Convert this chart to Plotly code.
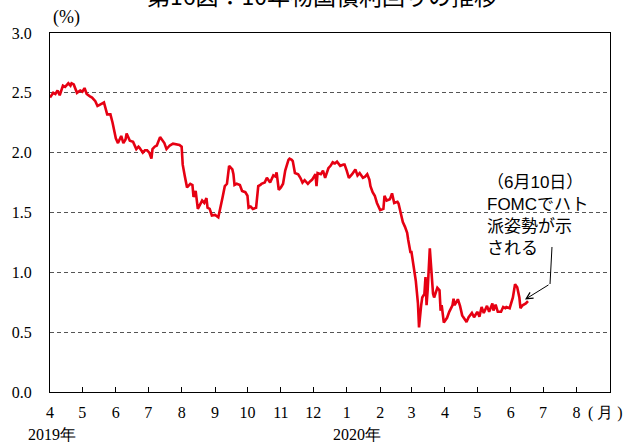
import pandas as pd
import plotly.graph_objects as go

# Days since 2019-04-01 and 10-year yield (%)
day_offsets = [
    0, 3, 5, 7, 9, 12, 14, 17, 19, 20, 22, 25, 28, 30, 32, 34, 37, 39, 42, 44,
    46, 48, 50, 53, 56, 58, 61, 63, 66, 68, 70, 71, 74, 77, 80, 82, 83, 86, 88, 90,
    92, 94, 95, 97, 99, 102, 104, 106, 108, 111, 114, 117, 119, 120, 122,
    123, 125, 127, 130, 132, 133, 135, 137, 139, 141, 143, 145, 146, 148, 150, 153, 156, 158,
    160, 162, 164, 166, 169, 170, 171, 173, 176, 178, 181, 183, 184, 186, 188, 191, 193,
    195, 196, 199, 201, 204, 207, 209, 210, 212, 214, 216, 218, 221, 222, 224, 225,
    227, 230, 232, 234, 236, 239, 241, 243, 246, 247, 248, 251, 253, 255, 258, 260, 262,
    264, 266, 269, 272, 273, 275, 277, 280, 283, 285, 287, 290, 292, 294, 296, 297, 299,
    301, 303, 306, 309, 310, 312, 315, 317, 319, 322, 323,
    325, 327, 329, 331, 332, 334, 335, 337, 339, 341, 342, 344, 345, 347, 348, 349, 350,
    352, 354, 355, 356, 359, 361, 362, 363, 365, 368, 370, 373, 374, 375, 378, 380,
    382, 385, 386, 388, 391, 393, 396, 398, 400, 402, 405, 407, 410, 411, 413, 415, 418,
    420, 422, 423, 426, 429, 431, 433, 435, 436, 438, 441, 443,
]
yields = [
    2.46, 2.50, 2.49, 2.52, 2.48, 2.56, 2.55, 2.58, 2.56, 2.58, 2.57, 2.50, 2.52, 2.51, 2.54, 2.49, 2.47, 2.46, 2.43, 2.39,
    2.40, 2.41, 2.42, 2.32, 2.32, 2.25, 2.12, 2.08, 2.14, 2.08, 2.11, 2.16, 2.10, 2.09, 2.03, 2.05, 2.04, 2.00, 2.02, 2.02,
    2.00, 1.95, 2.03, 2.05, 2.06, 2.13, 2.10, 2.08, 2.03, 2.06, 2.075, 2.07, 2.07, 2.065, 2.05,
    1.90, 1.80, 1.71, 1.74, 1.73, 1.63, 1.68, 1.53, 1.57, 1.60, 1.58, 1.62, 1.54, 1.53, 1.475, 1.48, 1.46, 1.56,
    1.63, 1.72, 1.74, 1.89, 1.86, 1.82, 1.73, 1.74, 1.73, 1.68, 1.67, 1.64, 1.54, 1.55, 1.53, 1.54, 1.72,
    1.73, 1.74, 1.75, 1.79, 1.75, 1.81, 1.80, 1.835, 1.69, 1.71, 1.74, 1.85, 1.94, 1.95, 1.94, 1.93,
    1.83, 1.82, 1.79, 1.75, 1.77, 1.74, 1.76, 1.775, 1.82, 1.72, 1.83, 1.82, 1.85, 1.79, 1.87, 1.89, 1.92,
    1.91, 1.925, 1.89, 1.90, 1.90, 1.85, 1.79, 1.82, 1.86, 1.81, 1.83, 1.79, 1.80, 1.82, 1.775, 1.72, 1.67,
    1.64, 1.58, 1.52, 1.53, 1.64, 1.60, 1.61, 1.66, 1.58, 1.59, 1.575,
    1.49, 1.42, 1.38, 1.33, 1.27, 1.17, 1.17, 1.04, 0.93, 0.74, 0.54, 0.725, 0.79, 0.82, 0.96, 0.725, 0.85,
    1.20, 0.96, 0.82, 0.79, 0.87, 0.85, 0.68, 0.725, 0.58, 0.62, 0.67, 0.725, 0.78, 0.725, 0.775, 0.72,
    0.64, 0.60, 0.585, 0.625, 0.66, 0.625, 0.67, 0.63, 0.71, 0.66, 0.72, 0.67, 0.74, 0.68, 0.73, 0.67, 0.67,
    0.71, 0.70, 0.71, 0.70, 0.79, 0.90, 0.875, 0.79, 0.70, 0.725, 0.74, 0.76,
]

month_ticks = ["2019-04-01", "2019-05-01", "2019-06-01", "2019-07-01", "2019-08-01",
               "2019-09-01", "2019-10-01", "2019-11-01", "2019-12-01", "2020-01-01",
               "2020-02-01", "2020-03-01", "2020-04-01", "2020-05-01", "2020-06-01",
               "2020-07-01", "2020-08-01"]
month_labels = ["4", "5", "6", "7", "8", "9", "10", "11", "12",
                "1", "2", "3", "4", "5", "6", "7", "8"]
y_ticks = [0.0, 0.5, 1.0, 1.5, 2.0, 2.5, 3.0]

dates = pd.Timestamp("2019-04-01") + pd.to_timedelta(day_offsets, unit="D")

SERIF = "Liberation Serif, Times New Roman, serif"
SANS = "Liberation Sans, Arial, Noto Sans CJK JP, sans-serif"

fig = go.Figure()
fig.add_trace(go.Scatter(
    x=dates, y=yields, mode="lines",
    line=dict(color="#e60012", width=2.6),
    hoverinfo="skip", showlegend=False,
))

fig.update_layout(
    width=627, height=443,
    margin=dict(l=50, r=17, t=33, b=51),
    paper_bgcolor="white", plot_bgcolor="white",
    showlegend=False,
    xaxis=dict(
        type="date", range=["2019-04-01", "2020-09-01"],
        tickmode="array", tickvals=month_ticks, ticktext=month_labels,
        ticks="inside", ticklen=5, tickcolor="black", tickwidth=1,
        showgrid=False, zeroline=False,
        showline=True, linecolor="black", linewidth=1, mirror=True,
        tickfont=dict(family=SERIF, size=16, color="black"),
        ticklabelstandoff=6,
    ),
    yaxis=dict(
        range=[0, 3], tickmode="array", tickvals=y_ticks,
        ticktext=[f"{v:.1f}" for v in y_ticks],
        ticks="", showgrid=True, gridcolor="#555555", gridwidth=1,
        griddash="4px,3px", zeroline=False,
        showline=True, linecolor="black", linewidth=1, mirror=True,
        tickfont=dict(family=SERIF, size=16, color="black"),
        ticklabelstandoff=14,
    ),
)

annotations = [
    dict(text="第16図：10年物国債利回りの推移", xref="paper", yref="paper",
         x=0.486, y=1.106, xanchor="center", yanchor="middle", showarrow=False,
         font=dict(family="Noto Sans CJK JP", size=23, color="black")),
    dict(text="(%)", xref="paper", yref="paper", x=0.03, y=1.042,
         xanchor="center", yanchor="middle", showarrow=False,
         font=dict(family=SERIF, size=18, color="black")),
    dict(text="( 月 )", xref="paper", yref="paper", x=0.992, y=-0.058,
         xanchor="center", yanchor="middle", showarrow=False,
         font=dict(family=SERIF, size=16, color="black")),
    dict(text="2019年", xref="paper", yref="paper", x=0.004, y=-0.118,
         xanchor="center", yanchor="middle", showarrow=False,
         font=dict(family=SERIF, size=16, color="black")),
    dict(text="2020年", xref="paper", yref="paper", x=0.548, y=-0.118,
         xanchor="center", yanchor="middle", showarrow=False,
         font=dict(family=SERIF, size=16, color="black")),
    dict(text="（6月10日）<br>FOMCでハト<br>派姿勢が示<br>される", xref="paper", yref="paper",
         x=0.776, y=0.491, xanchor="left", yanchor="middle", align="left",
         showarrow=False, font=dict(family=SANS, size=17, color="black")),
    dict(text="", xref="paper", yref="paper", x=0.8482, y=0.2577,
         ax=25, ay=-15.5, axref="pixel", ayref="pixel",
         showarrow=True, arrowhead=5, arrowsize=1.3, arrowwidth=1, arrowcolor="black"),
]
fig.update_layout(annotations=annotations)

fig.add_shape(type="line", xref="paper", yref="paper",
              x0=0.8964, y0=0.4039, x1=0.8929, y1=0.3008,
              line=dict(color="black", width=1))

fig.write_html("out.html")
